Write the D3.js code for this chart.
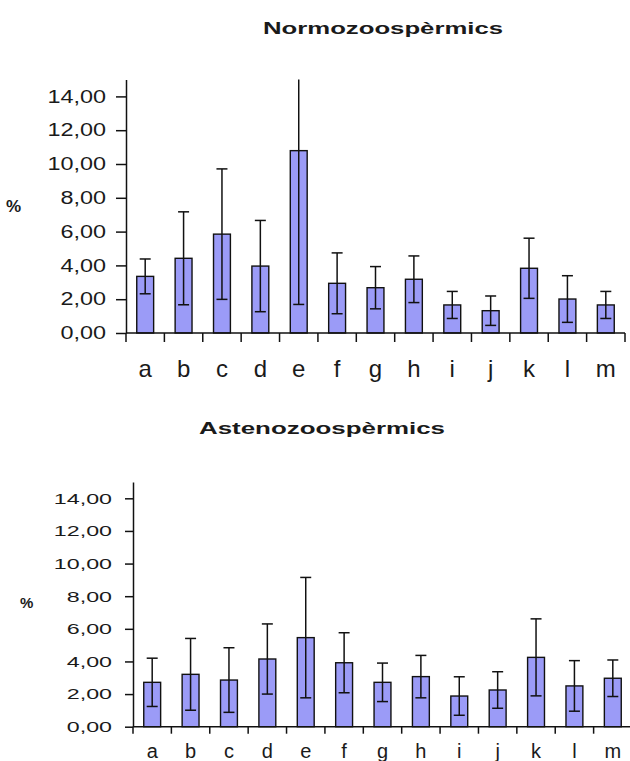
<!DOCTYPE html>
<html>
<head>
<meta charset="utf-8">
<script src="https://cdn.jsdelivr.net/npm/d3@7"></script>
<style>
  body { margin: 0; background: #fff; }
  text { font-family: "Liberation Sans", Arial, sans-serif; fill: #1a1a1a; }
</style>
</head>
<body>
<div id="chart-container"></div>
<script>
// Data (mean and standard deviation, %)
const categories = ["a", "b", "c", "d", "e", "f", "g", "h", "i", "j", "k", "l", "m"];
const normoMean = [3.35, 4.42, 5.85, 3.96, 10.79, 2.94, 2.68, 3.18, 1.66, 1.32, 3.83, 2.01, 1.66];
const normoSd   = [1.03, 2.75, 3.86, 2.70, 9.10, 1.80, 1.25, 1.38, 0.80, 0.87, 1.78, 1.38, 0.80];
const astenoMean = [2.72, 3.21, 2.86, 4.15, 5.46, 3.92, 2.72, 3.07, 1.88, 2.25, 4.25, 2.50, 2.97];
const astenoSd   = [1.48, 2.20, 1.98, 2.15, 3.69, 1.84, 1.18, 1.30, 1.18, 1.12, 2.36, 1.55, 1.12];
const yTicks = [0, 2, 4, 6, 8, 10, 12, 14];
const yMax = 15;

const width = 630;
const height = 761;

const svg = d3.create("svg")
    .attr("width", width)
    .attr("height", height);

d3.select("#chart-container").append(() => svg.node());

// the source picture is stretched sideways, so widen text to match
function stretch(sel, k) {
  sel.each(function() {
    const w = this.getComputedTextLength();
    d3.select(this).attr("textLength", w * k).attr("lengthAdjust", "spacingAndGlyphs");
  });
}

function drawPanel(p) {
  const g = svg.append("g");

  const x = d3.scaleBand()
      .domain(categories)
      .range([p.left, p.right])
      .paddingInner(0.56)
      .paddingOuter(0.28);

  const y = d3.scaleLinear()
      .domain([0, yMax])
      .range([p.bottom, p.top]);

  const rows = categories.map((c, i) => ({cat: c, mean: p.means[i], sd: p.sds[i]}));

  // title
  g.append("text")
      .attr("x", p.titleX)
      .attr("y", p.titleY)
      .attr("text-anchor", "middle")
      .style("font-weight", "bold")
      .style("font-size", "17px")
      .attr("textLength", p.titleW)
      .attr("lengthAdjust", "spacingAndGlyphs")
      .text(p.title);

  // "%" axis title
  g.append("text")
      .attr("x", p.pctX)
      .attr("y", p.pctY)
      .style("font-weight", "bold")
      .style("font-size", p.pctSize + "px")
      .text("%");

  // bars
  g.selectAll("rect")
    .data(rows)
    .join("rect")
      .attr("x", d => x(d.cat))
      .attr("y", d => y(d.mean))
      .attr("width", x.bandwidth())
      .attr("height", d => y(0) - y(d.mean))
      .attr("fill", "#9b9bf7")
      .attr("stroke", "#111")
      .attr("stroke-width", 1.4);

  // error bars (clipped to the axis top)
  const cap = 5.5;
  const err = g.append("g")
      .attr("stroke", "#111")
      .attr("stroke-width", 1.5);
  rows.forEach(d => {
    const cx = x(d.cat) + x.bandwidth() / 2;
    const hi = Math.min(d.mean + d.sd, yMax);
    const lo = Math.max(d.mean - d.sd, 0);
    err.append("line")
        .attr("x1", cx).attr("x2", cx)
        .attr("y1", y(lo)).attr("y2", y(hi));
    err.append("line")
        .attr("x1", cx - cap).attr("x2", cx + cap)
        .attr("y1", y(lo)).attr("y2", y(lo));
    if (d.mean + d.sd <= yMax) {
      err.append("line")
          .attr("x1", cx - cap).attr("x2", cx + cap)
          .attr("y1", y(hi)).attr("y2", y(hi));
    }
  });

  // y axis
  const yAxis = g.append("g")
      .attr("transform", `translate(${p.left},0)`)
      .call(d3.axisLeft(y)
          .tickValues(yTicks)
          .tickSize(p.yTickLen)
          .tickSizeOuter(0)
          .tickPadding(p.yTickPad)
          .tickFormat(d => d.toFixed(2).replace(".", ",")));
  yAxis.select(".domain").attr("stroke", "#111").attr("stroke-width", 1.5);
  yAxis.selectAll(".tick line").attr("stroke", "#111").attr("stroke-width", 1.5);
  yAxis.selectAll(".tick text")
      .attr("fill", "#1a1a1a")
      .style("font-family", "Liberation Sans, Arial, sans-serif")
      .style("font-size", p.yFont + "px")
      .call(stretch, p.yStretch);

  // x axis: labels under bars, ticks between categories
  const xAxis = g.append("g")
      .attr("transform", `translate(0,${p.bottom})`)
      .call(d3.axisBottom(x).tickSize(0).tickSizeOuter(0).tickPadding(p.xLabelPad));
  xAxis.select(".domain")
      .attr("d", `M${p.left},0H${p.right}`)
      .attr("stroke", "#111")
      .attr("stroke-width", 1.5);
  xAxis.selectAll(".tick text")
      .attr("fill", "#1a1a1a")
      .style("font-family", "Liberation Sans, Arial, sans-serif")
      .style("font-size", p.xFont + "px");

  const edge = (x.step() - x.bandwidth()) / 2;
  const bounds = categories.map(c => x(c) - edge).concat([x(categories[categories.length - 1]) + x.bandwidth() + edge]);
  xAxis.selectAll(".bound")
    .data(bounds)
    .join("line")
      .attr("class", "bound")
      .attr("x1", d => d).attr("x2", d => d)
      .attr("y1", 0).attr("y2", p.xTickLen)
      .attr("stroke", "#111")
      .attr("stroke-width", 1.5);
}

drawPanel({
  title: "Normozoospèrmics", titleX: 383, titleY: 34, titleW: 240,
  means: normoMean, sds: normoSd,
  left: 126, right: 625, top: 79.5, bottom: 333,
  pctX: 6, pctY: 212, pctSize: 17,
  yFont: 18, yStretch: 1.3, yTickLen: 10, yTickPad: 10,
  xFont: 24, xLabelPad: 27, xTickLen: 9
});

drawPanel({
  title: "Astenozoospèrmics", titleX: 322, titleY: 434, titleW: 246,
  means: astenoMean, sds: astenoSd,
  left: 133, right: 632, top: 482, bottom: 726.7,
  pctX: 20, pctY: 608, pctSize: 15,
  yFont: 15, yStretch: 1.55, yTickLen: 8, yTickPad: 13,
  xFont: 20, xLabelPad: 17, xTickLen: 7
});
</script>
</body>
</html>
